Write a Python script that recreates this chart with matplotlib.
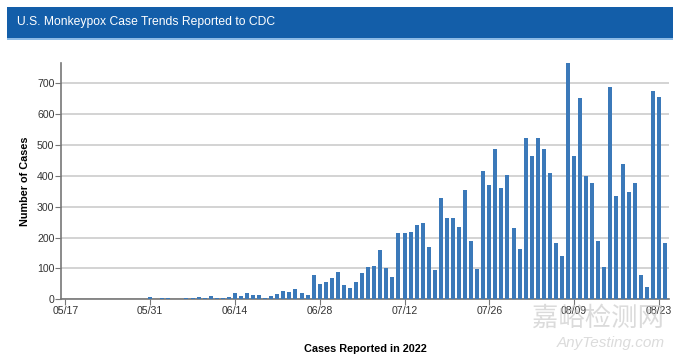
import pandas as pd
import matplotlib
matplotlib.use("Agg")
import matplotlib.pyplot as plt
from matplotlib.patches import Rectangle

# daily case counts starting 05/17/2022
start_date = "2022-05-17"
cases = [
    1, 0, 1, 0, 1, 1, 1, 0, 1, 0,
    2, 0, 1, 0, 6, 1, 4, 4, 0, 1,
    5, 5, 6, 5, 10, 5, 5, 9, 19, 11,
    21, 15, 13, 5, 11, 18, 26, 24, 33, 19,
    15, 80, 49, 56, 70, 89, 45, 35, 57, 84,
    104, 109, 160, 101, 71, 216, 214, 219, 241, 246,
    168, 96, 327, 265, 265, 234, 353, 190, 99, 416,
    371, 487, 360, 402, 231, 163, 523, 463, 522, 486,
    410, 184, 140, 767, 463, 654, 401, 376, 190, 104,
    689, 334, 437, 348, 376, 80, 39, 675, 656, 181,
]
title = "U.S. Monkeypox Case Trends Reported to CDC"
x_title = "Cases Reported in 2022"
y_title = "Number of Cases"
tick_every = 14

dates = pd.date_range(start_date, periods=len(cases), freq="D")
days = list(range(len(cases)))

plt.rcParams["font.family"] = ["Liberation Sans", "DejaVu Sans"]

fig = plt.figure(figsize=(6.8, 3.58), dpi=100)
ax = fig.add_axes([0.0902, 0.164, 0.893, 0.661])

ax.bar(days, cases, width=0.66, color="#3b79b9", zorder=3)

ax.set_xlim(-0.66, len(cases) - 0.4)
ax.set_ylim(0, max(cases))
ax.set_yticks(range(0, 701, 100))
ax.yaxis.grid(True, color="#d3d3d3", linewidth=1.4, zorder=0)
ax.set_axisbelow(True)

xt = days[::tick_every]
ax.set_xticks(xt)
ax.set_xticklabels([dates[i].strftime("%m/%d") for i in xt])

for s in ["top", "right"]:
    ax.spines[s].set_visible(False)
for s in ["left", "bottom"]:
    ax.spines[s].set_color("#777777")
    ax.spines[s].set_linewidth(1.2)
ax.tick_params(axis="both", labelsize=7.6, colors="#333333", length=4, width=0.8, pad=1)
ax.tick_params(axis="both", color="#777777")

ax.set_xlabel(x_title, fontsize=7.8, fontweight="bold", labelpad=20)
ax.set_ylabel(y_title, fontsize=7.8, fontweight="bold", labelpad=5)

# header band
fig.patches.append(Rectangle((0.0103, 0.894), 0.979, 0.086, transform=fig.transFigure,
                             facecolor="#135ea9", edgecolor="none", zorder=0))
fig.patches.append(Rectangle((0.0103, 0.889), 0.979, 0.006, transform=fig.transFigure,
                             facecolor="#8dbbe6", edgecolor="none", zorder=0))
fig.text(0.025, 0.938, title, color="white", fontsize=8.7, va="center", ha="left")

# watermark
fig.text(0.879, 0.112, "嘉峪检测网", family=["Noto Sans CJK SC", "DejaVu Sans"],
         fontsize=19, color="#c4c4c4", alpha=0.6, ha="center", va="center", zorder=10)
fig.text(0.898, 0.042, "AnyTesting.com", fontsize=11, style="italic",
         color="#c4c4c4", alpha=0.6, ha="center", va="center", zorder=10)

fig.savefig("out.png", dpi=100)
